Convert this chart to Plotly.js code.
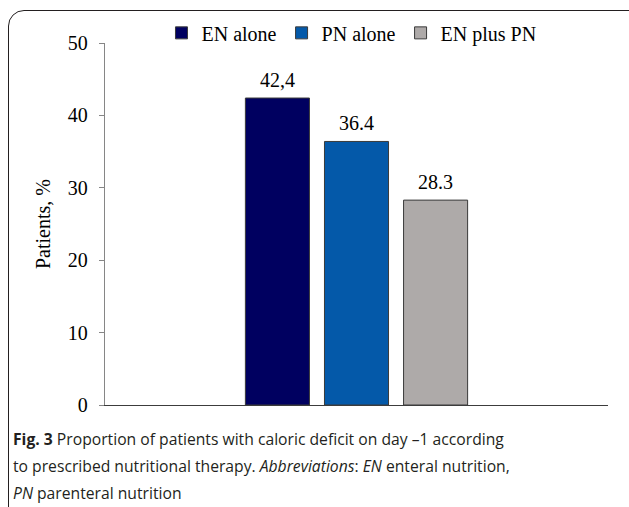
<!DOCTYPE html>
<html>
<head>
<meta charset="utf-8">
<script src="https://cdn.plot.ly/plotly-3.0.1.min.js"></script>
<style>
  html, body { margin: 0; padding: 0; background: #fff; overflow: hidden; }
  #frame { position: absolute; left: 8px; top: 10px; width: 700px; height: 600px;
           border: 1.5px solid #231f20; border-radius: 16px; box-sizing: border-box; }
  #chart { position: absolute; left: 0; top: 0; width: 629px; height: 507px; }
</style>
</head>
<body>
<div id="frame"></div>
<div id="chart"></div>
<script>
const categories = ["EN alone", "PN alone", "EN plus PN"];
const values = [42.4, 36.4, 28.3];
const valueLabels = ["42,4", "36.4", "28.3"];
const colors = ["#000060", "#0459a9", "#aeaaa9"];
const yTickValues = [0, 10, 20, 30, 40, 50];
const captionLines = [
  "<b>Fig. 3</b> Proportion of patients with caloric deficit on day \u20131 according",
  "to prescribed nutritional therapy. <i>Abbreviations</i>: <i>EN</i> enteral nutrition,",
  "<i>PN</i> parenteral nutrition"
];

const serif = "Liberation Serif, Times New Roman, serif";
const sans = "Open Sans, Noto Sans, sans-serif";

const traces = categories.map((c, i) => ({
  type: "bar",
  name: c,
  x: [c],
  y: [values[i]],
  width: 0.81,
  marker: { color: colors[i], line: { color: "#3a3a3a", width: 1 } },
  hoverinfo: "skip"
}));

const annotations = categories.map((c, i) => ({
  x: c, y: values[i], xref: "x", yref: "y",
  text: valueLabels[i], showarrow: false,
  yanchor: "middle", yshift: 18,
  font: { family: serif, size: 20, color: "#000" }
}));

const captionY = [439, 466, 493];
captionLines.forEach((t, i) => {
  annotations.push({
    x: 0, y: 0, xref: "paper", yref: "paper",
    xanchor: "left", yanchor: "middle",
    xshift: -94, yshift: -(captionY[i] - 405),
    text: t, showarrow: false, align: "left",
    font: { family: sans, size: 15.7, color: "#231f20" }
  });
});

const layout = {
  width: 629, height: 507,
  margin: { l: 105, r: 21, t: 43, b: 102, pad: 0 },
  paper_bgcolor: "rgba(0,0,0,0)",
  plot_bgcolor: "rgba(0,0,0,0)",
  barmode: "overlay",
  showlegend: true,
  legend: {
    orientation: "h", x: 0.49, xanchor: "center", y: 1.028, yanchor: "middle",
    font: { family: serif, size: 20, color: "#000" },
    bgcolor: "rgba(0,0,0,0)"
  },
  xaxis: {
    type: "category",
    range: [-2.18, 4.18],
    showticklabels: false, ticks: "",
    showgrid: false, zeroline: false,
    showline: true, linecolor: "#3c3c3c", linewidth: 1.2,
    fixedrange: true
  },
  yaxis: {
    range: [0, 50],
    tickvals: yTickValues,
    ticks: "outside", ticklen: 5, tickcolor: "#868686", tickwidth: 1,
    ticklabelstandoff: 7,
    showgrid: false, zeroline: false,
    showline: true, linecolor: "#868686", linewidth: 1.2,
    tickfont: { family: serif, size: 20, color: "#000" },
    title: { text: "Patients, %", font: { family: serif, size: 20, color: "#000" }, standoff: 11 },
    automargin: false,
    fixedrange: true
  },
  annotations: annotations
};

Plotly.newPlot("chart", traces, layout, { displayModeBar: false, staticPlot: true });
</script>
</body>
</html>
